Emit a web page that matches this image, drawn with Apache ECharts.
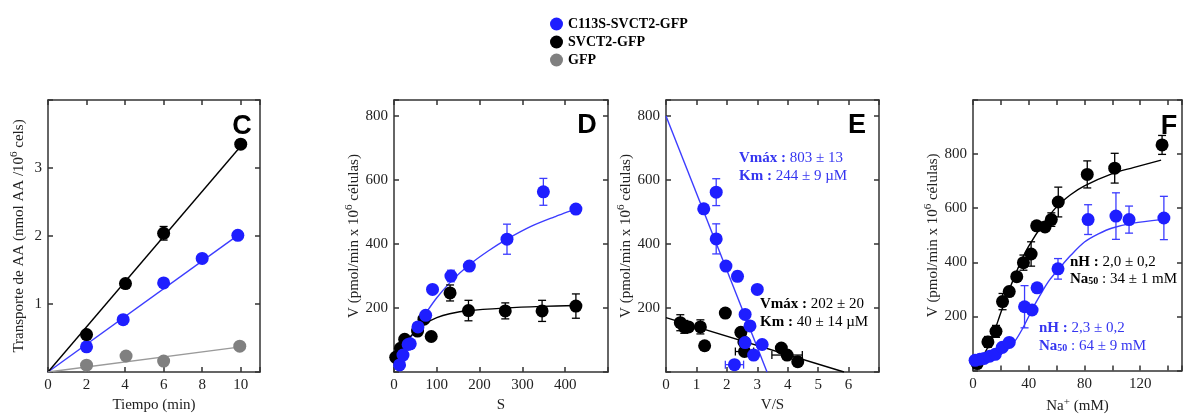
<!DOCTYPE html>
<html><head><meta charset="utf-8">
<script src="https://cdn.jsdelivr.net/npm/echarts@6/dist/echarts.min.js"></script>
<style>html,body{margin:0;padding:0;background:#fff}#c{width:1185px;height:419px}</style>
</head><body><div id="c"></div>
<script>
// ---------- data ----------
const legendNames = ['C113S-SVCT2-GFP', 'SVCT2-GFP', 'GFP'];

// Panel C: time course
const cBlue  = [[2,0.37],[3.9,0.77],[6,1.31],[8,1.67],[9.85,2.01]];
const cBlack = [[2,0.55],[4.02,1.30],[6,2.04],[10,3.35]];
const cGray  = [[2,0.10],[4.05,0.235],[6,0.16],[9.95,0.38]];
const cBlackErr = [[6,2.04,0.1],[10,3.35,0.06]];
const cBlueFit  = [[0,0],[9.9,2.02]];
const cBlackFit = [[0,0],[10,3.32]];
const cGrayFit  = [[0,0],[10,0.37]];

// Panel D: V vs S
const dBlue  = [[13,22],[21,53],[33,86],[38,88],[56,141],[74,177],[90,258],[133,300],[176,331],[264,415],[349,563],[425,509]];
const dBlueErr = [[133,300,18],[264,415,47],[349,563,42]];
const dBlack = [[4,46],[15,74],[25,102],[55,128],[70,165],[87,111],[131,247],[174,192],[260,191],[346,191],[425,206]];
const dBlackErr = [[131,247,25],[174,192,32],[260,191,25],[346,191,33],[425,206,38]];
const dBlueFit  = [[10,25],[25,70],[40,110],[56,145],[75,185],[100,232],[134,284],[176,335],[220,378],[264,415],[320,455],[375,485],[425,510]];
const dBlackFit = [[35,107],[56,133],[74,152],[100,170],[130,182],[175,192],[260,200],[345,205],[425,208]];

// Panel E: Eadie-Hofstee V vs V/S
const eBlue  = [[1.24,510],[1.65,562],[1.65,416],[1.97,331],[2.35,299],[3.0,258],[2.6,180],[2.76,144],[2.6,92],[3.16,86],[2.88,53],[2.25,23]];
const eBlueErrY = [[1.65,562,42],[1.65,416,47],[2.35,299,15]];
const eBlueErrX = [[416,1.65,0.1],[92,2.6,0.12],[23,2.25,0.3]];
const eBlack = [[0.47,154],[0.6,141],[0.74,141],[1.13,141],[1.27,82],[1.95,184],[2.46,124],[2.56,94],[2.58,64],[3.79,75],[3.98,53],[4.33,32]];
const eBlackErrY = [[0.47,154,25],[0.6,141,20],[1.13,141,22],[1.95,184,12]];
const eBlackErrX = [[64,2.58,0.3],[53,3.98,0.5],[184,1.95,0.1]];
const eBlueFit  = [[0,800],[3.32,0]];
const eBlackFit = [[0,170],[5.85,0]];

// Panel F: V vs Na+
const fBlack = [[3,26],[10.7,106],[16.5,145],[21.2,255],[26,292],[31.4,347],[36.2,399],[41.7,431],[45.7,535],[51.7,531],[56.2,558],[61.2,623],[82,725],[101.7,748],[135.7,834]];
const fBlackErr = [[3,26,10],[10.7,106,20],[16.5,145,22],[21.2,255,30],[26,292,10],[31.4,347,15],[36.2,399,28],[41.7,431,45],[45.7,535,12],[51.7,531,12],[56.2,558,25],[61.2,623,55],[82,725,50],[101.7,748,55],[135.7,834,35]];
const fBlue = [[1.5,38],[5,42],[8,45],[12,53],[16,60],[21,86],[26,104],[37,236],[42.4,224],[46,306],[61,376],[82.6,558],[102.6,571],[112,558],[137,564]];
const fBlueErr = [[26,104,12],[37,236,78],[61,376,38],[82.6,558,55],[102.6,571,86],[112,558,50],[137,564,80]];
const fBlackFit = [[3,22],[10,80],[15,140],[20,215],[25,285],[30,350],[35,410],[40,460],[50,540],[60,605],[70,650],[80,683],[100,728],[115,750],[135,778]];
const fBlueFit  = [[2,33],[10,40],[15,47],[20,60],[25,80],[30,108],[35,150],[40,200],[45,250],[50,295],[55,335],[62,378],[70,425],[80,475],[90,505],[100,527],[115,545],[135,558]];

// ---------- style ----------
const BLUE = '#1e1eff', BLUE_L = '#3c3cff', BLUE_T = '#3535f0', BLACK = '#000', GRAY = '#808080', GRAY_L = '#9a9a9a';
const SERIF = '"Liberation Serif", "Times New Roman", serif';
const AX = '#333';

const grids = [
  {left:48,  top:100, width:212, height:272},
  {left:394, top:100, width:214, height:272},
  {left:666, top:100, width:213, height:272},
  {left:973, top:100, width:211, height:272}
];

const lineAx = {show:true, onZero:false, lineStyle:{color:AX, width:1.5}};
const tickAx = {show:true, inside:true, length:5, lineStyle:{color:AX, width:1.5}};
const labelStyle = {fontFamily:SERIF, fontSize:15, color:'#222'};
const richName = {
  a:{fontFamily:SERIF, fontSize:15, color:'#222', lineHeight:20},
  s:{fontFamily:SERIF, fontSize:11, color:'#222', verticalAlign:'top', lineHeight:20}
};

const xAxes = [], yAxes = [];
function addAxes(gi, xc, yc){
  xAxes.push({type:'value', gridIndex:gi, position:'bottom', min:xc.min, max:xc.max, interval:xc.interval,
    axisLine:lineAx, axisTick:tickAx, splitLine:{show:false},
    axisLabel:Object.assign({margin:6, formatter:xc.fmt}, labelStyle),
    name:xc.name, nameLocation:'middle', nameGap:22, nameTextStyle:{rich:richName}});
  xAxes.push({type:'value', gridIndex:gi, position:'top', min:xc.min, max:xc.max, interval:xc.interval,
    axisLine:lineAx, axisTick:tickAx, splitLine:{show:false}, axisLabel:{show:false}});
  yAxes.push({type:'value', gridIndex:gi, position:'left', min:yc.min, max:yc.max, interval:yc.interval,
    axisLine:lineAx, axisTick:tickAx, splitLine:{show:false},
    axisLabel:Object.assign({margin:6, formatter:yc.fmt}, labelStyle),
    name:yc.name, nameLocation:'middle', nameGap:yc.gap, nameRotate:90, nameTextStyle:{rich:richName}});
  yAxes.push({type:'value', gridIndex:gi, position:'right', min:yc.min, max:yc.max, interval:yc.interval,
    axisLine:lineAx, axisTick:tickAx, splitLine:{show:false}, axisLabel:{show:false}});
}
const vName = '{a|V (pmol/min x 10}{s|6}{a| células)}';
addAxes(0,
  {min:0, max:11, interval:2, name:'{a|Tiempo (min)}', fmt:v => v <= 10 ? String(v) : ''},
  {min:0, max:4, interval:1, gap:19, name:'{a|Transporte de AA (nmol AA /10}{s|6}{a| cels)}', fmt:v => (v>0 && v<4) ? String(v) : ''});
addAxes(1,
  {min:0, max:500, interval:100, name:'{a|S}', fmt:v => v <= 400 ? String(v) : ''},
  {min:0, max:850, interval:200, gap:21, name:vName, fmt:v => (v>0 && v<=800) ? String(v) : ''});
addAxes(2,
  {min:0, max:7, interval:1, name:'{a|V/S}', fmt:v => v <= 6 ? String(v) : ''},
  {min:0, max:850, interval:200, gap:25, name:vName, fmt:v => (v>0 && v<=800) ? String(v) : ''});
addAxes(3,
  {min:0, max:150, interval:20, name:'{a|Na}{s|+}{a| (mM)}', fmt:v => (v%40===0 && v<=120) ? String(v) : ''},
  {min:0, max:1000, interval:200, gap:25, name:vName, fmt:v => (v>0 && v<=800) ? String(v) : ''});

const series = [];
function scatter(gi, data, color, name){
  series.push({type:'scatter', name:name, xAxisIndex:2*gi, yAxisIndex:2*gi, data:data,
    symbol:'circle', symbolSize:13, itemStyle:{color:color, opacity:1}, z:4, silent:true});
}
function fit(gi, data, color, smooth){
  series.push({type:'line', xAxisIndex:2*gi, yAxisIndex:2*gi, data:data, showSymbol:false, symbol:'none',
    smooth:smooth ? 0.3 : false, lineStyle:{color:color, width:1.4}, z:2, silent:true});
}
// vertical error bars: [x, y, err]; horizontal: [y, x, err]
function errbar(gi, data, color, dir){
  series.push({type:'custom', xAxisIndex:2*gi, yAxisIndex:2*gi, data:data, z:3, silent:true,
    encode: dir==='y' ? {x:0, y:1} : {x:1, y:0},
    renderItem:function(params, api){
      const a = api.value(0), b = api.value(1), e = api.value(2);
      const st = {stroke:color, lineWidth:1.3};
      const cap = 4;
      let p1, p2, kids;
      if (dir === 'y') {
        p1 = api.coord([a, b - e]); p2 = api.coord([a, b + e]);
        kids = [
          {type:'line', shape:{x1:p1[0], y1:p1[1], x2:p2[0], y2:p2[1]}, style:st},
          {type:'line', shape:{x1:p1[0]-cap, y1:p1[1], x2:p1[0]+cap, y2:p1[1]}, style:st},
          {type:'line', shape:{x1:p2[0]-cap, y1:p2[1], x2:p2[0]+cap, y2:p2[1]}, style:st}
        ];
      } else {
        p1 = api.coord([b - e, a]); p2 = api.coord([b + e, a]);
        kids = [
          {type:'line', shape:{x1:p1[0], y1:p1[1], x2:p2[0], y2:p2[1]}, style:st},
          {type:'line', shape:{x1:p1[0], y1:p1[1]-cap, x2:p1[0], y2:p1[1]+cap}, style:st},
          {type:'line', shape:{x1:p2[0], y1:p2[1]-cap, x2:p2[0], y2:p2[1]+cap}, style:st}
        ];
      }
      return {type:'group', children:kids};
    }});
}

// Panel C (legend series first)
scatter(0, cBlue, BLUE, legendNames[0]);
scatter(0, cBlack, BLACK, legendNames[1]);
scatter(0, cGray, GRAY, legendNames[2]);
fit(0, cBlueFit, BLUE_L); fit(0, cBlackFit, BLACK); fit(0, cGrayFit, GRAY_L);
errbar(0, cBlackErr, BLACK, 'y');
// Panel D
fit(1, dBlueFit, BLUE_L, true); fit(1, dBlackFit, BLACK, true);
errbar(1, dBlueErr, BLUE_L, 'y'); errbar(1, dBlackErr, BLACK, 'y');
scatter(1, dBlack, BLACK); scatter(1, dBlue, BLUE);
// Panel E
fit(2, eBlueFit, BLUE_L); fit(2, eBlackFit, BLACK);
errbar(2, eBlueErrY, BLUE_L, 'y'); errbar(2, eBlueErrX, BLUE_L, 'x');
errbar(2, eBlackErrY, BLACK, 'y'); errbar(2, eBlackErrX, BLACK, 'x');
scatter(2, eBlack, BLACK); scatter(2, eBlue, BLUE);
// Panel F
fit(3, fBlackFit, BLACK, true); fit(3, fBlueFit, BLUE_L, true);
errbar(3, fBlackErr, BLACK, 'y'); errbar(3, fBlueErr, BLUE_L, 'y');
scatter(3, fBlack, BLACK); scatter(3, fBlue, BLUE);

// ---------- annotations ----------
function letter(t, x, y){
  return {type:'text', x:x, y:y, z:10, style:{text:t, font:'bold 27px "Liberation Sans", Arial, sans-serif', fill:'#000', align:'center', verticalAlign:'middle'}};
}
function note(text, x, y, color){
  return {type:'text', x:x, y:y, z:10, style:{text:text, align:'left', verticalAlign:'middle',
    rich:{
      b:{fontFamily:SERIF, fontSize:15, fontWeight:'bold', fill:color},
      n:{fontFamily:SERIF, fontSize:15, fill:color},
      bs:{fontFamily:SERIF, fontSize:10, fontWeight:'bold', fill:color, verticalAlign:'bottom'}
    }}};
}
const graphics = [
  letter('C', 242, 127), letter('D', 587, 126), letter('E', 857, 126), letter('F', 1169, 127),
  note('{b|Vmáx :}{n| 803 ± 13}', 739, 158, BLUE_T),
  note('{b|Km :}{n| 244 ± 9 µM}', 739, 176, BLUE_T),
  note('{b|Vmáx :}{n| 202 ± 20}', 760, 304, '#000'),
  note('{b|Km :}{n| 40 ± 14 µM}', 760, 322, '#000'),
  note('{b|nH :}{n| 2,0 ± 0,2}', 1070, 262, '#000'),
  note('{b|Na}{bs|50}{n| : 34 ± 1 mM}', 1070, 279, '#000'),
  note('{b|nH :}{n| 2,3 ± 0,2}', 1039, 328, BLUE_T),
  note('{b|Na}{bs|50}{n| : 64 ± 9 mM}', 1039, 346, BLUE_T)
];

const chart = echarts.init(document.getElementById('c'), null, {renderer:'canvas'});
chart.setOption({
  animation:false,
  backgroundColor:'#fff',
  grid:grids,
  xAxis:xAxes,
  yAxis:yAxes,
  legend:{data:legendNames, orient:'vertical', left:545, top:12, itemWidth:13, itemHeight:13, itemGap:4,
    icon:'circle', selectedMode:false,
    textStyle:{fontFamily:SERIF, fontWeight:'bold', fontSize:14, color:'#000'}},
  series:series,
  graphic:graphics
});
</script></body></html>
